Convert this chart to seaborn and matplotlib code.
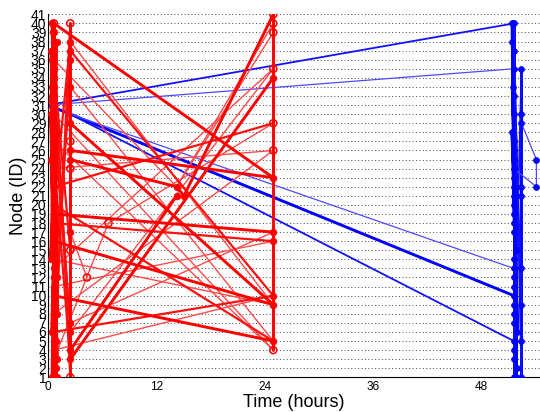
import pandas as pd
import matplotlib
matplotlib.use("Agg")
import matplotlib.pyplot as plt
import seaborn as sns
from matplotlib.ticker import MultipleLocator

# message paths: (time in hours, node id)
red_heavy = [
    [(0.66, 1), (0.66, 2), (0.66, 3), (0.66, 4), (0.66, 5), (0.66, 6), (0.66, 7), (0.66, 8),
     (0.66, 9), (0.66, 10), (0.66, 11), (0.66, 12), (0.66, 13), (0.66, 14), (0.66, 15),
     (0.66, 16), (0.66, 17), (0.66, 18), (0.66, 19), (0.66, 20), (0.66, 21), (0.66, 22),
     (0.66, 23), (0.66, 24), (0.66, 25), (0.66, 26), (0.66, 27), (0.66, 28), (0.66, 29),
     (0.66, 30), (0.66, 31), (0.66, 32), (0.66, 33), (0.66, 34), (0.66, 35), (0.66, 36),
     (0.66, 37), (0.66, 38), (0.66, 39), (0.66, 40)],
    [(0.45, 40), (1.0, 3), (0.35, 37), (0.95, 1), (0.4, 33), (1.05, 8), (0.55, 39), (0.9, 2),
     (0.3, 30), (1.0, 12), (0.4, 36), (0.85, 5), (0.35, 25), (1.05, 17), (0.45, 1),
     (0.95, 38), (0.3, 14), (1.0, 28), (0.4, 6)],
    [(2.47, 1), (2.47, 3), (2.47, 4), (2.47, 6), (2.47, 7), (2.47, 15), (2.47, 17), (2.47, 24),
     (2.47, 25), (2.47, 26), (2.47, 27), (2.47, 29), (2.47, 33), (2.47, 36), (2.47, 37),
     (2.47, 38), (2.47, 40)],
    [(24.95, 4), (24.95, 5), (24.95, 9), (24.95, 10), (24.95, 16), (24.95, 17), (24.95, 23),
     (24.95, 26), (24.95, 29), (24.95, 34), (24.95, 35), (24.95, 39), (24.95, 40), (24.95, 41)],
    [(0.66, 40), (24.95, 23)],
    [(2.47, 26), (24.95, 23)],
    [(0.66, 19), (24.95, 17)],
    [(0.66, 16), (24.95, 9)],
    [(2.47, 4), (14.25, 21)],
    [(15.06, 21), (24.95, 41)],
    [(2.47, 3), (24.95, 34)],
    [(0.66, 10), (24.95, 5)],
    [(2.47, 29), (24.95, 9)],
    [(2.47, 25), (14.25, 22), (15.06, 21)],
]
red_medium = [
    [(0.66, 38), (2.47, 1)],
    [(0.66, 2), (2.47, 40)],
    [(0.66, 33), (2.47, 6)],
    [(0.66, 5), (2.47, 36)],
    [(0.66, 25), (2.47, 3)],
    [(0.66, 12), (2.47, 33)],
    [(0.66, 35), (2.47, 15)],
    [(0.66, 20), (2.47, 38)],
    [(0.66, 29), (2.47, 7)],
    [(0.0, 31), (0.5, 33)],
    [(0.66, 18), (24.95, 16)],
    [(2.47, 37), (24.95, 10)],
    [(0.66, 22), (24.95, 29)],
    [(0.66, 6), (24.95, 10)],
    [(0.66, 20), (24.95, 5)],
]
red_light = [
    [(14.25, 22), (24.95, 40)],
    [(14.25, 22), (24.95, 39)],
    [(2.47, 6), (24.95, 35)],
    [(0.66, 24), (24.95, 26)],
    [(0.66, 11), (24.95, 16)],
    [(2.47, 38), (24.95, 9)],
    [(0.66, 36), (14.25, 22)],
    [(2.47, 33), (24.95, 5)],
    [(0.66, 30), (24.95, 4)],
    [(2.47, 17), (4.32, 12)],
    [(0.66, 3), (6.7, 18), (24.95, 29)],
    [(0.66, 8), (24.95, 26)],
    [(0.66, 27), (24.95, 4)],
    [(0.66, 4), (24.95, 10)],
    [(0.66, 14), (24.95, 9)],
    [(2.47, 7), (24.95, 17)],
    [(0.66, 13), (24.95, 35)],
]
red_rings = [(0.0, 31), (0.66, 40), (2.47, 40), (2.47, 1), (2.47, 27), (2.47, 24), (2.47, 15),
             (24.95, 41), (24.95, 40), (24.95, 39), (24.95, 35), (24.95, 29), (24.95, 26),
             (24.95, 4), (4.32, 12), (6.7, 18)]

blue_heavy = [
    [(0.0, 31), (2.47, 30)],
    [(2.47, 30), (51.6, 10)],
    [(51.6, 1), (51.6, 3), (51.6, 4), (51.6, 5), (51.6, 7), (51.6, 8), (51.6, 9), (51.6, 10),
     (51.6, 11), (51.6, 12), (51.6, 13), (51.6, 14), (51.6, 17), (51.6, 18), (51.6, 19),
     (51.6, 20), (51.6, 21), (51.6, 22), (51.6, 23), (51.6, 24), (51.6, 25), (51.6, 26),
     (51.6, 27), (51.6, 30), (51.6, 32), (51.6, 37), (51.6, 40)],
    [(52.45, 1), (52.45, 5), (52.45, 9), (52.45, 13), (52.45, 21), (52.45, 22), (52.45, 30),
     (52.45, 35)],
    [(51.4, 40), (51.9, 2), (51.45, 38), (51.85, 1), (51.5, 33), (52.0, 6), (51.4, 28),
     (51.95, 15), (51.5, 40)],
]
blue_medium = [
    [(0.0, 31), (51.6, 40)],
    [(2.47, 30), (51.6, 5)],
    [(51.6, 40), (52.45, 1)],
    [(51.6, 1), (52.45, 35)],
    [(51.6, 37), (52.45, 9)],
]
blue_light = [
    [(0.0, 31), (51.6, 35), (52.45, 35)],
    [(2.47, 30), (51.6, 13)],
    [(52.45, 29), (54.1, 25), (54.1, 22), (51.6, 24)],
]

x_ticks = [0, 12, 24, 36, 48]
y_ticks = list(range(1, 42))

groups = [("blue_heavy", blue_heavy), ("blue_medium", blue_medium), ("blue_light", blue_light),
          ("red_light", red_light), ("red_medium", red_medium), ("red_heavy", red_heavy)]
rows = []
for name, paths in groups:
    for i, path in enumerate(paths):
        for t, n in path:
            rows.append({"path": f"{name}_{i}", "group": name, "time": t, "node": n})
df = pd.DataFrame(rows)

sns.set_theme(style="white")
plt.rcParams["font.family"] = ["Liberation Sans", "DejaVu Sans"]

fig = plt.figure(figsize=(5.4, 4.12), dpi=100)
ax = fig.add_axes([0.0889, 0.0842, 0.9111, 0.881])

palette = {"red_heavy": "#ff0000", "red_medium": "#ff1010", "red_light": "#ff4a4a",
           "blue_heavy": "#0000ff", "blue_medium": "#1010ff", "blue_light": "#4a4aff"}
widths = {"red_heavy": 2.1, "red_medium": 1.6, "red_light": 1.0,
          "blue_heavy": 2.1, "blue_medium": 1.3, "blue_light": 0.9}
sns.lineplot(data=df, x="time", y="node", units="path", estimator=None, sort=False,
             hue="group", hue_order=[g for g, _ in groups], size="group", sizes=widths,
             palette=palette, legend=False, ax=ax)

ring_set = set(red_rings)
red_pts = df[df["group"].str.startswith("red")][["time", "node"]].drop_duplicates()
red_pts = red_pts[[(t, n) not in ring_set for t, n in zip(red_pts["time"], red_pts["node"])]]
blue_pts = df[df["group"].str.startswith("blue") & (df["time"] > 50)][["time", "node"]].drop_duplicates()
rings = pd.DataFrame(red_rings, columns=["time", "node"])

sns.scatterplot(data=blue_pts, x="time", y="node", s=18, color="#0000ff", edgecolor="#0000ff",
                linewidth=0.5, ax=ax, zorder=3)
sns.scatterplot(data=red_pts, x="time", y="node", s=22, color="#ff0000", edgecolor="#ff0000",
                linewidth=0.6, ax=ax, zorder=3)
sns.scatterplot(data=rings, x="time", y="node", s=26, color="#ff0000", ax=ax, zorder=3)
ring_coll = ax.collections[-1]
ring_coll.set_facecolor("none")
ring_coll.set_edgecolor("#ff0000")
ring_coll.set_linewidth(1.1)

ax.set_xlim(0, 54.5)
ax.set_ylim(1, 41)
ax.set_xticks(x_ticks)
ax.xaxis.set_minor_locator(MultipleLocator(1.2))
ax.set_yticks(y_ticks)
ax.tick_params(axis="both", which="major", direction="in", length=4, width=0.8,
               color="black", labelcolor="black")
ax.tick_params(axis="x", which="major", labelsize=8.5, pad=3)
ax.tick_params(axis="y", which="major", labelsize=10, pad=1.2)
ax.tick_params(axis="x", which="minor", direction="in", length=2.5, width=0.6, color="black")
ax.grid(axis="y", linestyle=(0, (1, 2.5)), color="#444444", linewidth=0.7)
ax.set_axisbelow(True)
for side in ["top", "right"]:
    ax.spines[side].set_visible(False)
for side in ["left", "bottom"]:
    ax.spines[side].set_color("black")
    ax.spines[side].set_linewidth(0.8)

ax.set_xlabel("Time (hours)", fontsize=13, color="black")
ax.set_ylabel("Node (ID)", fontsize=13, color="black")
ax.xaxis.set_label_coords(0.5, -0.045)
ax.yaxis.set_label_coords(-0.042, 0.5)

fig.savefig("out.png", dpi=100)
